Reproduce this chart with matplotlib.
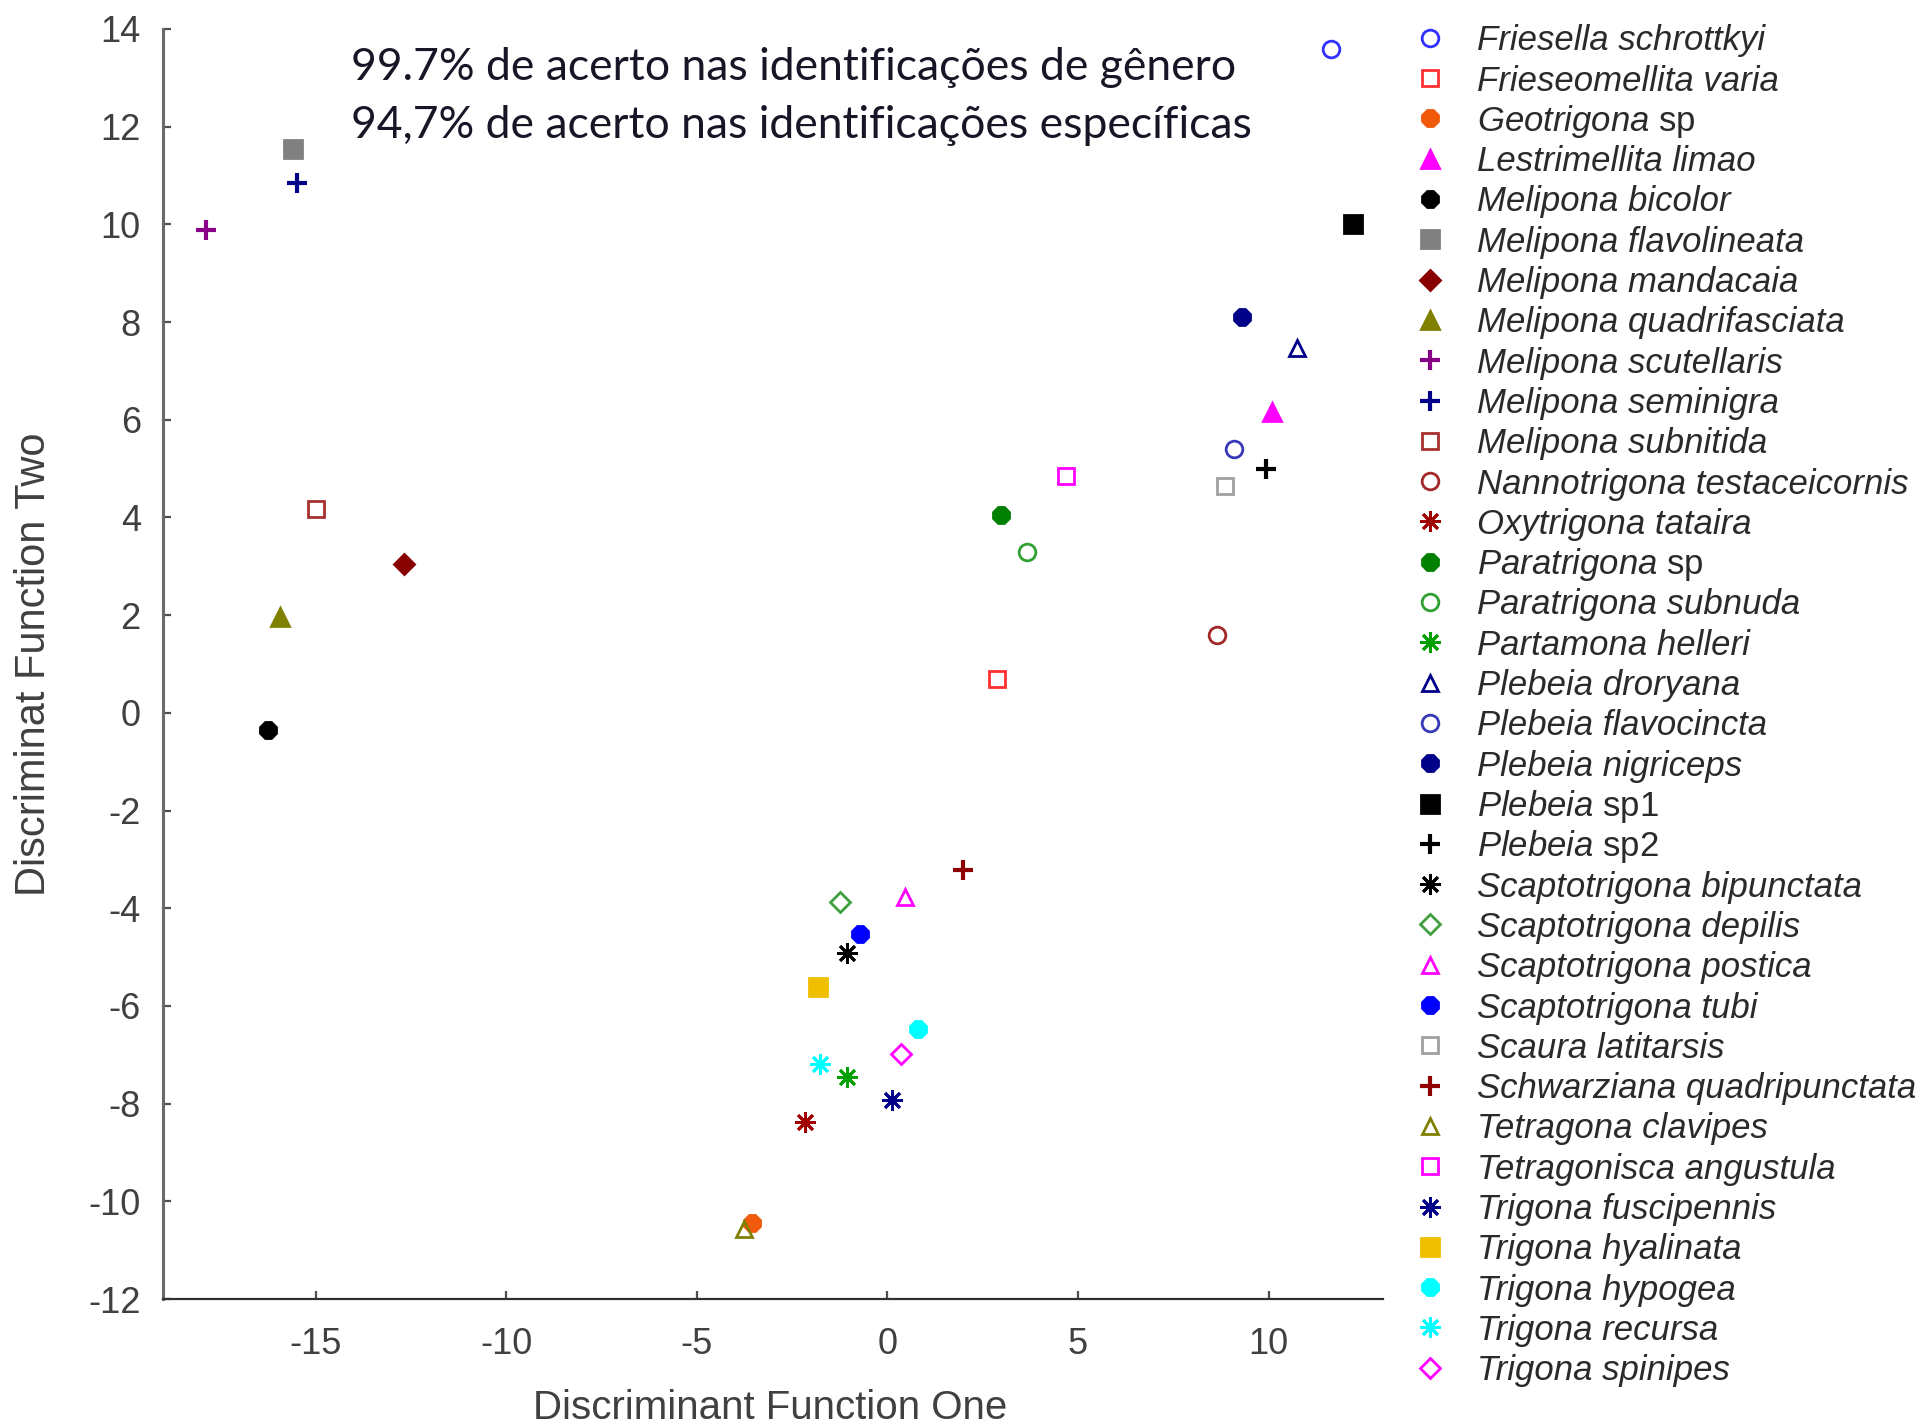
import matplotlib
matplotlib.use('Agg')
import matplotlib.pyplot as plt

plt.rcParams['axes.unicode_minus'] = False
plt.rcParams['mathtext.fontset'] = 'custom'
plt.rcParams['mathtext.rm'] = 'Liberation Sans'
plt.rcParams['mathtext.it'] = 'Liberation Sans:italic'

# dados
species = ['Friesella schrottkyi', 'Frieseomellita varia', 'Geotrigona $\\mathrm{sp}$',
           'Lestrimellita limao', 'Melipona bicolor', 'Melipona flavolineata',
           'Melipona mandacaia', 'Melipona quadrifasciata', 'Melipona scutellaris',
           'Melipona seminigra', 'Melipona subnitida', 'Nannotrigona testaceicornis',
           'Oxytrigona tataira', 'Paratrigona $\\mathrm{sp}$', 'Paratrigona subnuda',
           'Partamona helleri', 'Plebeia droryana', 'Plebeia flavocincta',
           'Plebeia nigriceps', 'Plebeia $\\mathrm{sp1}$', 'Plebeia $\\mathrm{sp2}$',
           'Scaptotrigona bipunctata', 'Scaptotrigona depilis', 'Scaptotrigona postica',
           'Scaptotrigona tubi', 'Scaura latitarsis', 'Schwarziana quadripunctata',
           'Tetragona clavipes', 'Tetragonisca angustula', 'Trigona fuscipennis',
           'Trigona hyalinata', 'Trigona hypogea', 'Trigona recursa', 'Trigona spinipes']
df1 = [11.63, 2.88, -3.56, 10.10, -16.25, -15.58, -12.69, -15.93, -17.88, -15.48,
       -15.00, 8.65, -2.15, 2.98, 3.65, -1.06, 10.74, 9.10, 9.29, 12.22, 9.94,
       -1.06, -1.25, 0.45, -0.71, 8.85, 1.99, -3.75, 4.68, 0.13, -1.83, 0.80,
       -1.76, 0.35]
df2 = [13.60, 0.69, -10.44, 6.16, -0.36, 11.54, 3.05, 1.97, 9.89, 10.84,
       4.18, 1.59, -8.38, 4.05, 3.30, -7.45, 7.46, 5.40, 8.11, 10.01, 5.00,
       -4.92, -3.87, -3.77, -4.52, 4.65, -3.22, -10.56, 4.85, -7.93, -5.62, -6.48,
       -7.18, -6.98]

# estilo de cada especie
AST = (8, 2, 0)
markers = ['o', 's', '8', '^', '8', 's', 'D', '^', '+', '+', 's', 'o', AST, '8', 'o',
           AST, '^', 'o', '8', 's', '+', AST, 'D', '^', '8', 's', '+', '^', 's', AST,
           's', '8', AST, 'D']
colors = ['#3030ff', '#ff3030', '#f05a0a', '#ff00ff', '#000000', '#808080', '#880000',
          '#808000', '#880088', '#000088', '#a83030', '#a02828', '#a00000', '#008000',
          '#30a030', '#00a000', '#000088', '#3838b8', '#000088', '#000000', '#000000',
          '#000000', '#40a040', '#ff00ff', '#0000ff', '#a0a0a0', '#900000', '#808000',
          '#ff00ff', '#000088', '#f0c000', '#00ffff', '#00ffff', '#ff00ff']
filled = [False, False, True, True, True, True, True, True, True, True, False, False,
          True, True, False, True, False, False, True, True, True, True, False, False,
          True, False, True, False, False, True, True, True, True, False]


def style(i):
    m = markers[i]
    size = 13
    if m == 'D':
        size = 10
    elif m in ('+', AST):
        size = 15
    elif not filled[i]:
        size = 12
    return dict(linestyle='none', marker=m, markersize=size, color=colors[i],
                markerfacecolor=colors[i] if filled[i] else 'none',
                markeredgecolor=colors[i],
                markeredgewidth=3 if m == '+' else 2)


fig = plt.figure(figsize=(19.2, 14.28), dpi=100)
ax = fig.add_axes([0.0849, 0.0903, 0.6354, 0.8894])

for i in range(len(species)):
    ax.plot(df1[i], df2[i], **style(i))

ax.set_xlim(-19, 13)
ax.set_ylim(-12, 14)
ax.set_xticks([-15, -10, -5, 0, 5, 10])
ax.set_yticks(range(-12, 15, 2))

for s in ['top', 'right']:
    ax.spines[s].set_visible(False)
ax.spines['left'].set_color('#6a6a6a')
ax.spines['left'].set_linewidth(2.2)
ax.spines['bottom'].set_color('#303030')
ax.spines['bottom'].set_linewidth(1.6)

ax.tick_params(direction='in', length=6, width=1.6, colors='#505050',
               labelsize=26, labelcolor='#404040')
ax.tick_params(axis='y', pad=16)
ax.tick_params(axis='x', pad=20)
for lab in ax.get_xticklabels() + ax.get_yticklabels():
    lab.set_family('Liberation Sans')

ax.set_xlabel('Discriminant Function One', fontsize=29, color='#404040',
              family='Liberation Sans')
ax.set_ylabel('Discriminat Function Two', fontsize=30, color='#404040',
              family='Liberation Sans')
ax.xaxis.set_label_coords(0.498, -0.0858)
ax.xaxis.label.set_va('center')
ax.yaxis.set_label_coords(-0.106, 0.5)
ax.yaxis.label.set_va('center')

ax.text(0.1545, 0.970, '99.7% de acerto nas identificações de gênero',
        transform=ax.transAxes, fontsize=32, family='Lato', color='#161626',
        va='center', ha='left')
ax.text(0.1545, 0.9244, '94,7% de acerto nas identificações específicas',
        transform=ax.transAxes, fontsize=32, family='Lato', color='#161626',
        va='center', ha='left')

# legenda desenhada a mao (linhas com espacamento fixo)
lax = fig.add_axes([0.72, 0.0, 0.28, 1.0])
lax.axis('off')
lax.set_xlim(1382.4, 1920)
lax.set_ylim(34.496, -0.938)
for i in range(len(species)):
    lax.plot(1430, i, **style(i))
    lax.text(1477, i + 0.31, species[i], fontsize=25, family='Liberation Sans',
             style='italic', color='#2a2a2a', va='baseline', ha='left')

fig.savefig('out.png', dpi=100)
